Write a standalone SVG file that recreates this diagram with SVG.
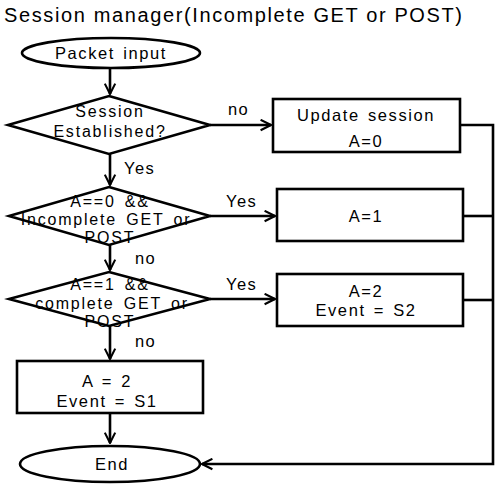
<svg xmlns="http://www.w3.org/2000/svg" width="500" height="484" viewBox="0 0 500 484">
<defs>
<marker id="arr" viewBox="0 0 10 10" refX="9" refY="5" markerWidth="5" markerHeight="5" orient="auto" markerUnits="strokeWidth">
<path d="M1,1 L9,5 L1,9" fill="none" stroke="#000" stroke-width="1.6"/>
</marker>
<style>
.s{fill:#fff;stroke:#000;stroke-width:2.6}
.c{fill:none;stroke:#000;stroke-width:2.6}
.t{font-family:"Liberation Sans",Arial,sans-serif;font-size:16.5px;letter-spacing:1.6px;word-spacing:2px;fill:#000;text-anchor:middle}
.d{font-family:"Liberation Sans",Arial,sans-serif;font-size:16px;letter-spacing:1.8px;word-spacing:3px;fill:#000;text-anchor:middle}
.l{font-family:"Liberation Sans",Arial,sans-serif;font-size:16.5px;letter-spacing:1.4px;fill:#000}
</style>
</defs>
<rect width="500" height="484" fill="#fff"/>
<text x="4" y="22" font-family="Liberation Sans, Arial, sans-serif" font-size="20" textLength="458">Session manager(Incomplete GET or POST)</text>
<g id="connectors">
<path class="c" d="M110,68 V94" marker-end="url(#arr)"/>
<path class="c" d="M210,125 H271" marker-end="url(#arr)"/>
<path class="c" d="M110,154 V185" marker-end="url(#arr)"/>
<path class="c" d="M210,216 H275" marker-end="url(#arr)"/>
<path class="c" d="M110,245 V270" marker-end="url(#arr)"/>
<path class="c" d="M210,299 H275" marker-end="url(#arr)"/>
<path class="c" d="M110,326 V359" marker-end="url(#arr)"/>
<path class="c" d="M110,413 V443" marker-end="url(#arr)"/>
<path class="c" d="M460,125 H493 V464 H202" marker-end="url(#arr)"/>
<path class="c" d="M463,216 H493"/>
<path class="c" d="M463,300 H493"/>
<text class="l" x="228" y="115">no</text>
<text class="l" x="124" y="174">Yes</text>
<text class="l" x="226" y="207">Yes</text>
<text class="l" x="135" y="264">no</text>
<text class="l" x="226" y="290">Yes</text>
<text class="l" x="135" y="347">no</text>
</g>
<g id="start">
<ellipse class="s" cx="111" cy="53" rx="89" ry="15"/>
<text class="t" x="111" y="59">Packet input</text>
</g>
<g id="decision1">
<polygon class="s" points="109,96 210,125 109,154 8,125"/>
<text class="d" x="110" y="117">Session</text>
<text class="d" x="110" y="137">Established?</text>
</g>
<g id="update">
<rect class="s" x="273" y="99" width="187" height="53"/>
<text class="t" x="366" y="121">Update session</text>
<text class="t" x="366" y="147">A=0</text>
</g>
<g id="decision2">
<polygon class="s" points="109,187 210,216 109,245 9,216"/>
<text class="d" x="110" y="207">A==0 &amp;&amp;</text>
<text class="d" x="106" y="225">Incomplete GET or</text>
<text class="d" x="110" y="243">POST</text>
</g>
<g id="a1">
<rect class="s" x="277" y="189" width="186" height="52"/>
<text class="t" x="366" y="222">A=1</text>
</g>
<g id="decision3">
<polygon class="s" points="109,272 210,299 109,326 9,299"/>
<text class="d" x="110" y="290">A==1 &amp;&amp;</text>
<text class="d" x="112" y="309">complete GET or</text>
<text class="d" x="110" y="327">POST</text>
</g>
<g id="a2s2">
<rect class="s" x="277" y="274" width="186" height="52"/>
<text class="t" x="366" y="297">A=2</text>
<text class="t" x="366" y="316">Event = S2</text>
</g>
<g id="a2s1">
<rect class="s" x="17" y="361" width="186" height="52"/>
<text class="t" x="107" y="387">A = 2</text>
<text class="t" x="107" y="407">Event = S1</text>
</g>
<g id="end">
<ellipse class="s" cx="110" cy="464" rx="90" ry="18"/>
<text class="t" x="112" y="470">End</text>
</g>
</svg>
